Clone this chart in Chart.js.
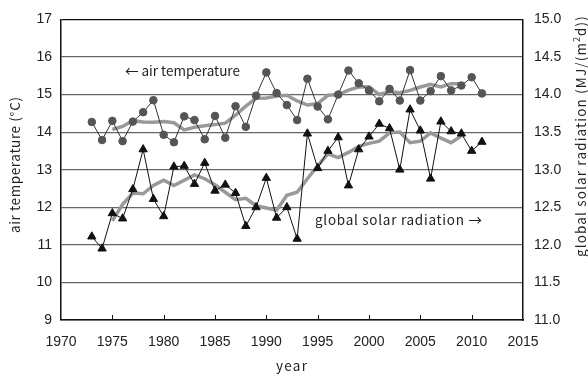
<!DOCTYPE html>
<html>
<head>
<meta charset="utf-8">
<script src="https://cdn.jsdelivr.net/npm/chart.js@4"></script>
<style>
  body { margin: 0; background: #fff; }
  #chart-wrap { width: 588px; height: 374px; }
</style>
</head>
<body>
<div id="chart-wrap"><canvas id="chart-climate" width="588" height="374"></canvas></div>
<script>
const years = [1973, 1974, 1975, 1976, 1977, 1978, 1979, 1980, 1981, 1982,
    1983, 1984, 1985, 1986, 1987, 1988, 1989, 1990, 1991, 1992,
    1993, 1994, 1995, 1996, 1997, 1998, 1999, 2000, 2001, 2002,
    2003, 2004, 2005, 2006, 2007, 2008, 2009, 2010, 2011];
const airTemp = [14.27, 13.79, 14.30, 13.76, 14.28, 14.53, 14.85, 13.93, 13.73, 14.42,
    14.32, 13.81, 14.43, 13.85, 14.69, 14.14, 14.97, 15.59, 15.04, 14.72,
    14.32, 15.42, 14.68, 14.34, 15.00, 15.64, 15.30, 15.11, 14.82, 15.15,
    14.84, 15.65, 14.84, 15.09, 15.49, 15.11, 15.24, 15.46, 15.03];
const solarRad = [12.11, 11.95, 12.42, 12.35, 12.74, 13.27, 12.61, 12.38, 13.04, 13.05,
    12.81, 13.09, 12.72, 12.80, 12.69, 12.25, 12.50, 12.89, 12.36, 12.50,
    12.08, 13.48, 13.02, 13.25, 13.43, 12.79, 13.27, 13.44, 13.61, 13.55,
    13.00, 13.80, 13.52, 12.88, 13.64, 13.51, 13.48, 13.25, 13.37];

// 5-year running means (as drawn, 1975-2009)
const avgYears = [1975, 1976, 1977, 1978, 1979, 1980, 1981, 1982, 1983, 1984,
    1985, 1986, 1987, 1988, 1989, 1990, 1991, 1992, 1993, 1994,
    1995, 1996, 1997, 1998, 1999, 2000, 2001, 2002, 2003, 2004,
    2005, 2006, 2007, 2008, 2009];
const airTempAvg = [14.07, 14.15, 14.31, 14.27, 14.26, 14.28, 14.25, 14.06, 14.13, 14.17,
    14.20, 14.24, 14.45, 14.69, 14.90, 14.91, 14.96, 14.98, 14.83, 14.72,
    14.76, 14.98, 15.00, 15.12, 15.20, 15.21, 15.00, 15.08, 15.05, 15.11,
    15.20, 15.27, 15.20, 15.29, 15.29];
const solarRadAvg = [12.32, 12.54, 12.69, 12.68, 12.79, 12.86, 12.79, 12.86, 12.93, 12.88,
    12.80, 12.70, 12.60, 12.62, 12.52, 12.49, 12.46, 12.66, 12.70, 12.88,
    13.05, 13.21, 13.16, 13.23, 13.31, 13.35, 13.38, 13.49, 13.50, 13.36,
    13.38, 13.49, 13.42, 13.36, 13.45];

const xTicks = [1970, 1975, 1980, 1985, 1990, 1995, 2000, 2005, 2010, 2015];

const tickFont = { family: "'Liberation Sans', Arial, sans-serif", size: 14 };
const labelFont = "13.5px 'Noto Sans CJK JP', 'Noto Sans', sans-serif";
const supFont = "9px 'Noto Sans CJK JP', 'Noto Sans', sans-serif";

function toPoints(xs, ys) {
    return xs.map((x, i) => ({ x: x, y: ys[i] }));
}

// the original uses a fixed-pitch gothic font, so stretch each label to its width
function fitText(ctx, text, x, y, width) {
    ctx.letterSpacing = '0px';
    let w = ctx.measureText(text).width;
    let n = [...text].length;
    let sp = n > 1 ? (width - w) / (n - 1) : 0;
    ctx.letterSpacing = sp.toFixed(2) + 'px';
    ctx.fillText(text, x, y);
    ctx.letterSpacing = '0px';
}

// inner tick marks on the x axis + titles and notes
const decorPlugin = {
    id: 'decor',
    afterDraw(chart) {
        const ctx = chart.ctx;
        const xs = chart.scales.x;
        const area = chart.chartArea;
        ctx.save();
        ctx.strokeStyle = '#111';
        ctx.lineWidth = 1;
        xTicks.forEach(v => {
            if (v === 1970 || v === 2015) return;
            let px = Math.round(xs.getPixelForValue(v)) + 0.5;
            ctx.beginPath();
            ctx.moveTo(px, area.bottom);
            ctx.lineTo(px, area.bottom - 5);
            ctx.stroke();
        });

        ctx.fillStyle = '#222';
        ctx.font = labelFont;
        ctx.textBaseline = 'middle';
        ctx.textAlign = 'left';
        fitText(ctx, '← air temperature', 125, 71, 115);
        fitText(ctx, 'global solar radiation →', 315, 220, 167);
        fitText(ctx, 'year', 276, 366, 31);

        // left title
        ctx.save();
        ctx.translate(15, 233);
        ctx.rotate(-Math.PI / 2);
        fitText(ctx, 'air temperature (°C)', 0, 0, 136);
        ctx.restore();

        // right title with superscript
        ctx.save();
        ctx.translate(586, 257);
        ctx.rotate(-Math.PI / 2);
        ctx.textBaseline = 'alphabetic';
        const part1 = 'global solar radiation (MJ/(m';
        const part2 = 'd))';
        ctx.font = labelFont;
        const w1 = ctx.measureText(part1).width;
        const w3 = ctx.measureText(part2).width;
        ctx.font = supFont;
        const w2 = ctx.measureText('2').width;
        // spread extra room over the whole title
        const extra = 242 - (w1 + w2 + w3);
        const sp = extra / (part1.length + part2.length + 1);
        ctx.font = labelFont;
        fitText(ctx, part1, 0, 0, w1 + sp * (part1.length - 1));
        let xs2 = w1 + sp * part1.length;
        ctx.font = supFont;
        ctx.fillText('2', xs2, -6);
        ctx.font = labelFont;
        fitText(ctx, part2, xs2 + w2 + sp, 0, w3 + sp * (part2.length - 1));
        ctx.restore();

        ctx.restore();
    }
};

new Chart(document.getElementById('chart-climate'), {
    type: 'line',
    data: {
        datasets: [
            {
                data: toPoints(years, airTemp),
                yAxisID: 'y',
                borderColor: '#333',
                borderWidth: 1,
                pointStyle: 'circle',
                pointRadius: 3.8,
                pointBackgroundColor: '#555',
                pointBorderColor: '#555',
                pointBorderWidth: 1,
                order: 1
            },
            {
                data: toPoints(years, solarRad),
                yAxisID: 'y1',
                borderColor: '#111',
                borderWidth: 1,
                pointStyle: 'triangle',
                pointRadius: 4.8,
                pointBackgroundColor: '#111',
                pointBorderColor: '#111',
                pointBorderWidth: 1,
                order: 1
            },
            {
                data: toPoints(avgYears, airTempAvg),
                yAxisID: 'y',
                borderColor: '#999',
                borderWidth: 3.5,
                pointRadius: 0,
                order: 3
            },
            {
                data: toPoints(avgYears, solarRadAvg),
                yAxisID: 'y1',
                borderColor: '#999',
                borderWidth: 3.5,
                pointRadius: 0,
                order: 3
            }
        ]
    },
    options: {
        responsive: false,
        animation: false,
        layout: { padding: { top: 18, left: 0, right: 0, bottom: 0 } },
        plugins: {
            legend: { display: false },
            tooltip: { enabled: false }
        },
        scales: {
            x: {
                type: 'linear',
                min: 1970,
                max: 2015,
                afterBuildTicks: axis => { axis.ticks = xTicks.map(v => ({ value: v })); },
                afterFit: axis => { axis.height = 54; },
                ticks: {
                    font: tickFont,
                    color: '#222',
                    padding: 14,
                    maxRotation: 0,
                    callback: v => String(v)
                },
                grid: { display: false, drawTicks: false },
                border: { display: true, color: '#111', width: 1.5 }
            },
            y: {
                position: 'left',
                min: 9,
                max: 17,
                afterFit: axis => { axis.width = 61; },
                ticks: { stepSize: 1, font: tickFont, color: '#222', padding: 9 },
                grid: {
                    drawTicks: false,
                    color: ctx => (ctx.tick && ctx.tick.value === 17) ? '#111' : '#666',
                    lineWidth: 1.2
                },
                border: { display: true, color: '#111', width: 1.5 }
            },
            y1: {
                position: 'right',
                min: 11,
                max: 15,
                afterFit: axis => { axis.width = 65; },
                ticks: {
                    stepSize: 0.5,
                    font: tickFont,
                    color: '#222',
                    padding: 11,
                    callback: v => v.toFixed(1)
                },
                grid: { drawOnChartArea: false, drawTicks: false },
                border: { display: true, color: '#111', width: 1.5 }
            }
        }
    },
    plugins: [decorPlugin]
});
</script>
</body>
</html>
